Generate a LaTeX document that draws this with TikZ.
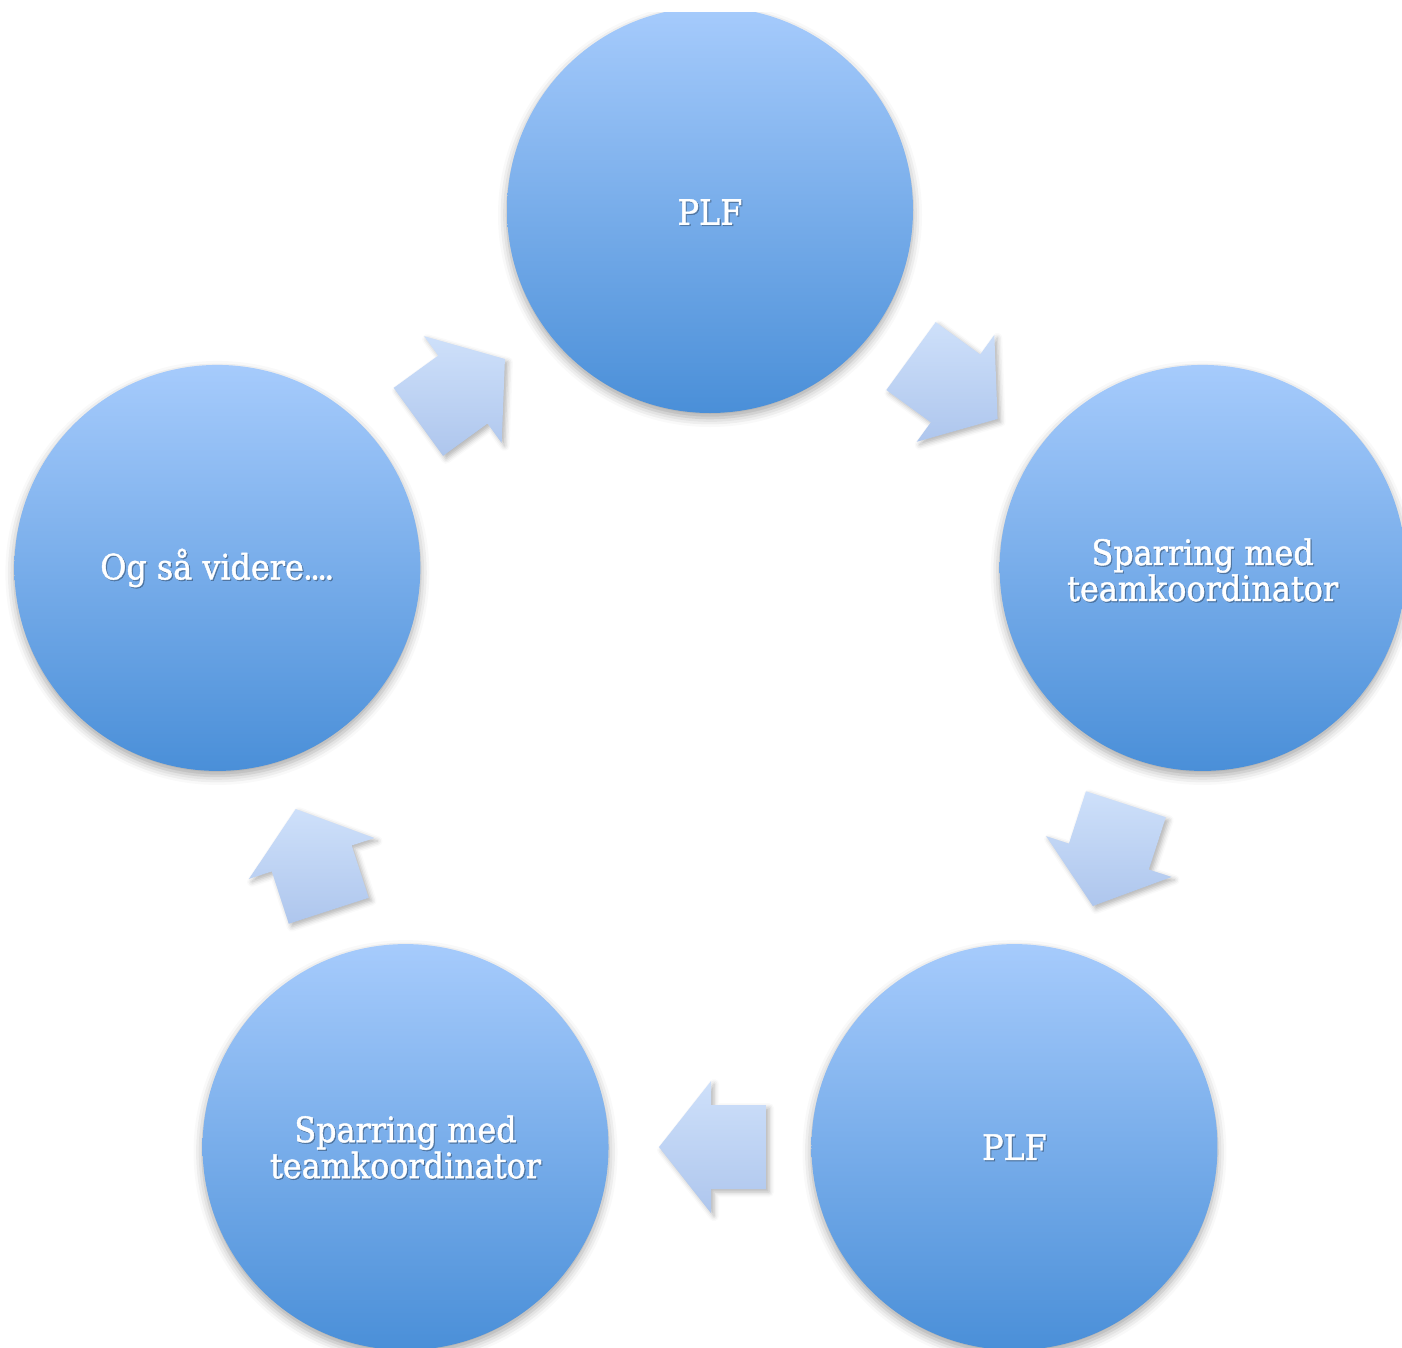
\documentclass[tikz,border=0pt]{standalone}
\usepackage{fontspec}
\setmainfont{Liberation Serif}
\newfontfamily\lblfont{DejaVu Serif}[FakeStretch=0.91, FakeBold=1.2]
\usetikzlibrary{calc,shadows.blur}
\definecolor{ctop}{RGB}{166,203,252}
\definecolor{cbot}{RGB}{74,143,216}
\definecolor{atop}{RGB}{206,224,250}
\definecolor{abot}{RGB}{174,198,237}
\begin{document}
\begin{tikzpicture}[x=1pt,y=1pt,
  stepcircle/.style={circle, minimum size=406pt, inner sep=0pt,
    top color=ctop, bottom color=cbot,
    blur shadow={shadow xshift=0pt, shadow yshift=-5pt, shadow blur radius=9pt, shadow opacity=35}},
  lbl/.style={text=white, font=\lblfont\fontsize{35}{36}\selectfont, align=center},
  lblshadow/.style={lbl, text=black, opacity=0.25},
  blockarrow/.pic={
    \shade[top color=atop, bottom color=abot,
      blur shadow={shadow xshift=3pt, shadow yshift=-3pt, shadow blur radius=5pt, shadow opacity=30}]
      (-56,-42) -- (-1,-42) -- (-1,-66) -- (51,0) -- (-1,66) -- (-1,42) -- (-56,42) -- cycle;
  }]
\useasboundingbox (0,0) rectangle (1402,-1347);
\clip (0,-12) rectangle (1402,-1347);
\coordinate (o) at (710,-728);
\node[stepcircle] (c1) at ($(o)+(90:518)$) {};
\node[stepcircle] (c2) at ($(o)+(18:518)$) {};
\node[stepcircle] (c3) at ($(o)+(-54:518)$) {};
\node[stepcircle] (c4) at ($(o)+(-126:518)$) {};
\node[stepcircle] (c5) at ($(o)+(162:518)$) {};
% arrows between circles
\coordinate (a12) at ($(c1.center)!0.5!(c2.center)$);
\coordinate (a23) at ($(c2.center)!0.5!(c3.center)$);
\coordinate (a34) at ($(c3.center)!0.5!(c4.center)$);
\coordinate (a45) at ($(c4.center)!0.5!(c5.center)$);
\coordinate (a51) at ($(c5.center)!0.5!(c1.center)$);
\pic[rotate=-36] at (a12) {blockarrow};
\pic[rotate=-108] at (a23) {blockarrow};
\pic[rotate=180] at (a34) {blockarrow};
\pic[rotate=108] at (a45) {blockarrow};
\pic[rotate=36] at (a51) {blockarrow};
% labels
\node[lblshadow] at ([shift={(1.2,-3.2)}]c1.center) {PLF};
\node[lbl] (t1) at ([yshift=-2]c1.center) {PLF};
\node[lblshadow] at ([shift={(1.2,-3.2)}]c2.center) {Sparring med\\teamkoordinator};
\node[lbl] (t2) at ([yshift=-2]c2.center) {Sparring med\\teamkoordinator};
\node[lblshadow] at ([shift={(1.2,-1.2)}]c3.center) {PLF};
\node[lbl] (t3) at (c3.center) {PLF};
\node[lblshadow] at ([shift={(1.2,-1.2)}]c4.center) {Sparring med\\teamkoordinator};
\node[lbl] (t4) at (c4.center) {Sparring med\\teamkoordinator};
\node[lblshadow] at ([shift={(1.2,-1.2)}]c5.center) {Og så videre\kern-1pt.\kern-3pt.\kern-3pt.\kern-3pt.};
\node[lbl] (t5) at (c5.center) {Og så videre\kern-1pt.\kern-3pt.\kern-3pt.\kern-3pt.};
\end{tikzpicture}
\end{document}
